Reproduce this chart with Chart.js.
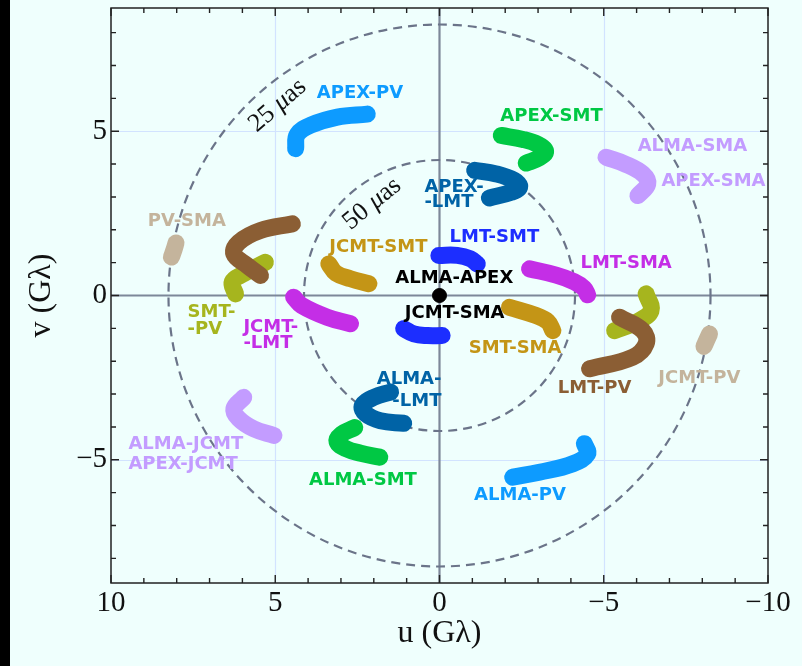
<!DOCTYPE html>
<html>
<head>
<meta charset="utf-8">
<script src="https://cdn.jsdelivr.net/npm/chart.js@4.4.1/dist/chart.umd.min.js"></script>
<style>
html, body { margin: 0; padding: 0; background: #effffd; }
canvas { display: block; }
</style>
</head>
<body>
<canvas id="chart" width="802" height="666"></canvas>
<script>
// uv tracks, [u, v] in G-lambda
const apexPv  = [[4.38, 4.47], [4.33, 4.90], [3.93, 5.18], [3.11, 5.43], [2.20, 5.52]];
const almaPv  = [[-4.41, -4.51], [-4.51, -4.82], [-4.06, -5.12], [-3.04, -5.38], [-2.23, -5.53]];
const apexSmt = [[-1.88, 4.87], [-2.54, 4.75], [-2.99, 4.60], [-3.23, 4.39], [-3.04, 4.19], [-2.64, 4.03]];
const almaSmt = [[2.58, -4.02], [2.98, -4.22], [3.12, -4.45], [2.85, -4.66], [2.40, -4.80], [1.82, -4.92]];
const apexLmt = [[-1.07, 3.81], [-1.73, 3.70], [-2.28, 3.50], [-2.44, 3.30], [-2.18, 3.14], [-1.52, 2.97]];
const almaLmt = [[1.49, -2.94], [2.00, -3.10], [2.35, -3.35], [2.25, -3.60], [1.80, -3.81], [1.09, -3.89]];
const almaSma = [[-5.07, 4.21], [-5.68, 3.99], [-6.19, 3.70], [-6.34, 3.40], [-6.04, 3.04]];
const almaJcmt = [[5.96, -3.10], [6.26, -3.45], [6.11, -3.75], [5.65, -4.06], [5.04, -4.26]];
const lmtSmt  = [[0.02, 1.22], [-0.54, 1.22], [-0.94, 1.12], [-1.15, 0.96]];
const jcmtSma = [[1.09, -1.01], [0.78, -1.17], [0.37, -1.22], [-0.08, -1.22]];
const lmtSma  = [[-2.74, 0.81], [-3.55, 0.62], [-4.10, 0.42], [-4.40, 0.22], [-4.51, 0.02]];
const jcmtLmt = [[4.44, -0.05], [4.20, -0.30], [3.42, -0.66], [2.71, -0.86]];
const jcmtSmt = [[3.37, 0.96], [3.15, 0.68], [2.71, 0.51], [2.15, 0.36]];
const smtSma  = [[-2.13, -0.36], [-2.94, -0.61], [-3.30, -0.80], [-3.45, -1.07]];
const pvSma   = [[8.02, 1.60], [8.08, 1.40], [8.16, 1.17]];
const jcmtPv  = [[-8.22, -1.17], [-8.13, -1.37], [-8.05, -1.55]];
const lmtPvA  = [[4.48, 2.18], [5.45, 1.98], [6.11, 1.62], [6.26, 1.27], [5.85, 0.91], [5.45, 0.61]];
const lmtPvB  = [[-5.48, -0.66], [-6.19, -1.07], [-6.29, -1.47], [-5.88, -1.88], [-4.57, -2.23]];
const smtPvA  = [[5.30, 1.01], [5.96, 0.66], [6.31, 0.41], [6.21, 0.05]];
const smtPvB  = [[-6.29, 0.05], [-6.44, -0.46], [-5.99, -0.81], [-5.33, -1.07]];
const almaApex = [[0, 0]];

const xTicks = [-10, -5, 0, 5, 10];
const yTicks = [-5, 0, 5];
const circleRadii = [8.25, 4.125];   // 25 and 50 micro-arcsec fringe spacing

const skyBlue = '#0d9bff', green = '#00c844', navy = '#0063a6', lavender = '#c39cff';
const blue = '#1c2eff', magenta = '#c42ee6', gold = '#c49516', tan = '#c4b49c';
const brown = '#8b5e34', olive = '#a6b51e';

const tracks = [
  [apexPv, skyBlue], [almaPv, skyBlue], [apexSmt, green], [almaSmt, green],
  [apexLmt, navy], [almaLmt, navy], [almaSma, lavender], [almaJcmt, lavender],
  [lmtSmt, blue], [jcmtSma, blue], [lmtSma, magenta], [jcmtLmt, magenta],
  [jcmtSmt, gold], [smtSma, gold], [pvSma, tan], [jcmtPv, tan],
  [lmtPvA, brown], [lmtPvB, brown], [smtPvA, olive], [smtPvB, olive]
];

// text, u, v, colour, align
const annotations = [
  ['APEX-PV', 2.42, 6.15, skyBlue, 'center'],
  ['APEX-SMT', -3.41, 5.46, green, 'center'],
  ['ALMA-SMA', -7.70, 4.54, lavender, 'center'],
  ['APEX-SMA', -8.34, 3.47, lavender, 'center'],
  ['PV-SMA', 7.69, 2.25, tan, 'center'],
  ['JCMT-SMT', 1.86, 1.48, gold, 'center'],
  ['LMT-SMT', -1.67, 1.78, blue, 'center'],
  ['LMT-SMA', -5.68, 0.97, magenta, 'center'],
  ['ALMA-APEX', -0.45, 0.52, '#000', 'center'],
  ['JCMT-SMA', -0.46, -0.54, '#000', 'center'],
  ['SMT-SMA', -2.30, -1.61, gold, 'center'],
  ['LMT-PV', -4.72, -2.83, brown, 'center'],
  ['JCMT-PV', -7.91, -2.53, tan, 'center'],
  ['ALMA-PV', -2.45, -6.09, skyBlue, 'center'],
  ['ALMA-SMT', 2.33, -5.63, green, 'center'],
  ['APEX-', 0.46, 3.30, navy, 'left'],
  ['-LMT', 0.46, 2.84, navy, 'left'],
  ['ALMA-', -0.06, -2.56, navy, 'right'],
  ['-LMT', -0.06, -3.23, navy, 'right'],
  ['SMT-', 7.67, -0.51, olive, 'left'],
  ['-PV', 7.67, -1.03, olive, 'left'],
  ['JCMT-', 5.97, -0.97, magenta, 'left'],
  ['-LMT', 5.97, -1.46, magenta, 'left'],
  ['ALMA-JCMT', 9.47, -4.52, lavender, 'left'],
  ['APEX-JCMT', 9.47, -5.13, lavender, 'left']
];

// circle captions: number, u, v, angle
const circleNotes = [['25', 4.93, 5.78, -41], ['50', 2.05, 2.79, -39.5]];

function minus(v) { return v < 0 ? '\u2212' + (-v) : '' + v; }

const decor = {
  id: 'decor',
  beforeDraw(chart) {
    const c = chart.ctx;
    c.save();
    c.fillStyle = '#effffd';
    c.fillRect(0, 0, chart.width, chart.height);
    c.fillStyle = '#000';
    c.fillRect(0, 0, 10, chart.height);
    c.restore();
  },
  beforeDatasetsDraw(chart) {
    const c = chart.ctx, a = chart.chartArea, x = chart.scales.x, y = chart.scales.y;
    c.save();
    c.beginPath();
    c.rect(a.left, a.top, a.right - a.left, a.bottom - a.top);
    c.clip();
    c.strokeStyle = '#d2e3ff';
    c.lineWidth = 1.2;
    [-5, 5].forEach(v => {
      const px = Math.round(x.getPixelForValue(v)) + 0.5;
      c.beginPath(); c.moveTo(px, a.top); c.lineTo(px, a.bottom); c.stroke();
      const py = Math.round(y.getPixelForValue(v)) + 0.5;
      c.beginPath(); c.moveTo(a.left, py); c.lineTo(a.right, py); c.stroke();
    });
    c.strokeStyle = '#7d8899';
    c.lineWidth = 2.2;
    const x0 = x.getPixelForValue(0), y0 = y.getPixelForValue(0);
    c.beginPath(); c.moveTo(x0, a.top); c.lineTo(x0, a.bottom); c.stroke();
    c.beginPath(); c.moveTo(a.left, y0); c.lineTo(a.right, y0); c.stroke();

    c.strokeStyle = '#6b7489';
    c.lineWidth = 2.2;
    c.setLineDash([9, 6]);
    circleRadii.forEach(r => {
      const rp = Math.abs(x.getPixelForValue(r) - x0);
      c.beginPath(); c.arc(x0, y0, rp, 0, Math.PI * 2); c.stroke();
    });
    c.setLineDash([]);

    c.fillStyle = '#111';
    c.textBaseline = 'middle';
    circleNotes.forEach(([num, u, v, ang]) => {
      c.save();
      c.translate(x.getPixelForValue(u), y.getPixelForValue(v));
      c.rotate(ang * Math.PI / 180);
      const up = '26px "Liberation Serif"', it = 'italic 26px "Liberation Serif"';
      c.font = up; const w1 = c.measureText(num + ' ').width, w3 = c.measureText('as').width;
      c.font = it; const w2 = c.measureText('\u03bc').width;
      let px = -(w1 + w2 + w3) / 2;
      c.textAlign = 'left';
      c.font = up; c.fillText(num + ' ', px, 0); px += w1;
      c.font = it; c.fillText('\u03bc', px, 0); px += w2;
      c.font = up; c.fillText('as', px, 0);
      c.restore();
    });
    c.restore();
  },
  afterDatasetsDraw(chart) {
    const c = chart.ctx, a = chart.chartArea, x = chart.scales.x, y = chart.scales.y;
    c.save();
    c.font = 'bold 18px "DejaVu Sans"';
    c.textBaseline = 'middle';
    annotations.forEach(([t, u, v, col, al]) => {
      c.fillStyle = col;
      c.textAlign = al;
      c.fillText(t, x.getPixelForValue(u), y.getPixelForValue(v));
    });

    c.strokeStyle = '#222';
    c.lineWidth = 1.5;
    c.strokeRect(a.left, a.top, a.right - a.left, a.bottom - a.top);
    c.lineWidth = 1.4;
    for (let v = -10; v <= 10; v++) {
      const len = v % 5 === 0 ? 8 : 5;
      const px = x.getPixelForValue(v);
      c.beginPath();
      c.moveTo(px, a.bottom); c.lineTo(px, a.bottom - len);
      c.moveTo(px, a.top); c.lineTo(px, a.top + len);
      c.stroke();
    }
    for (let v = -8; v <= 8; v++) {
      const len = v % 5 === 0 ? 8 : 5;
      const py = y.getPixelForValue(v);
      c.beginPath();
      c.moveTo(a.left, py); c.lineTo(a.left + len, py);
      c.moveTo(a.right, py); c.lineTo(a.right - len, py);
      c.stroke();
    }
    c.restore();
  }
};

const datasets = tracks.map(([pts, col]) => ({
  data: pts.map(p => ({x: p[0], y: p[1]})),
  showLine: true,
  borderColor: col,
  backgroundColor: col,
  borderWidth: 17,
  borderCapStyle: 'round',
  borderJoinStyle: 'round',
  tension: 0.4,
  pointRadius: 0,
  pointHoverRadius: 0
}));
datasets.push({
  data: almaApex.map(p => ({x: p[0], y: p[1]})),
  showLine: false,
  backgroundColor: '#000',
  borderColor: '#000',
  pointRadius: 7
});

const tickFont = {family: '"Liberation Serif"', size: 29};
const titleFont = {family: '"Liberation Serif"', size: 32};

new Chart(document.getElementById('chart').getContext('2d'), {
  type: 'scatter',
  data: {datasets: datasets},
  options: {
    responsive: false,
    animation: false,
    layout: {padding: {left: 0, top: 8, right: 34, bottom: 0}},
    plugins: {legend: {display: false}, tooltip: {enabled: false}},
    scales: {
      x: {
        type: 'linear', min: -10, max: 10, reverse: true,
        grid: {display: false, drawTicks: false},
        border: {display: false},
        afterBuildTicks: s => { s.ticks = xTicks.map(v => ({value: v})); },
        afterFit: s => { s.height = 83; s.paddingLeft = 0; s.paddingRight = 0; },
        ticks: {font: tickFont, color: '#111', padding: 3, maxRotation: 0, callback: v => minus(v)},
        title: {display: true, text: 'u (G\u03bb)', font: titleFont, color: '#111', padding: {top: 0, bottom: 13}}
      },
      y: {
        type: 'linear', min: -8.75, max: 8.75,
        grid: {display: false, drawTicks: false},
        border: {display: false},
        afterBuildTicks: s => { s.ticks = yTicks.map(v => ({value: v})); },
        afterFit: s => { s.width = 111; s.paddingTop = 0; s.paddingBottom = 0; },
        ticks: {font: tickFont, color: '#111', padding: 4, callback: v => minus(v)},
        title: {display: true, text: 'v (G\u03bb)', font: titleFont, color: '#111', padding: {top: 22, bottom: 0}}
      }
    }
  },
  plugins: [decor]
});
</script>
</body>
</html>
